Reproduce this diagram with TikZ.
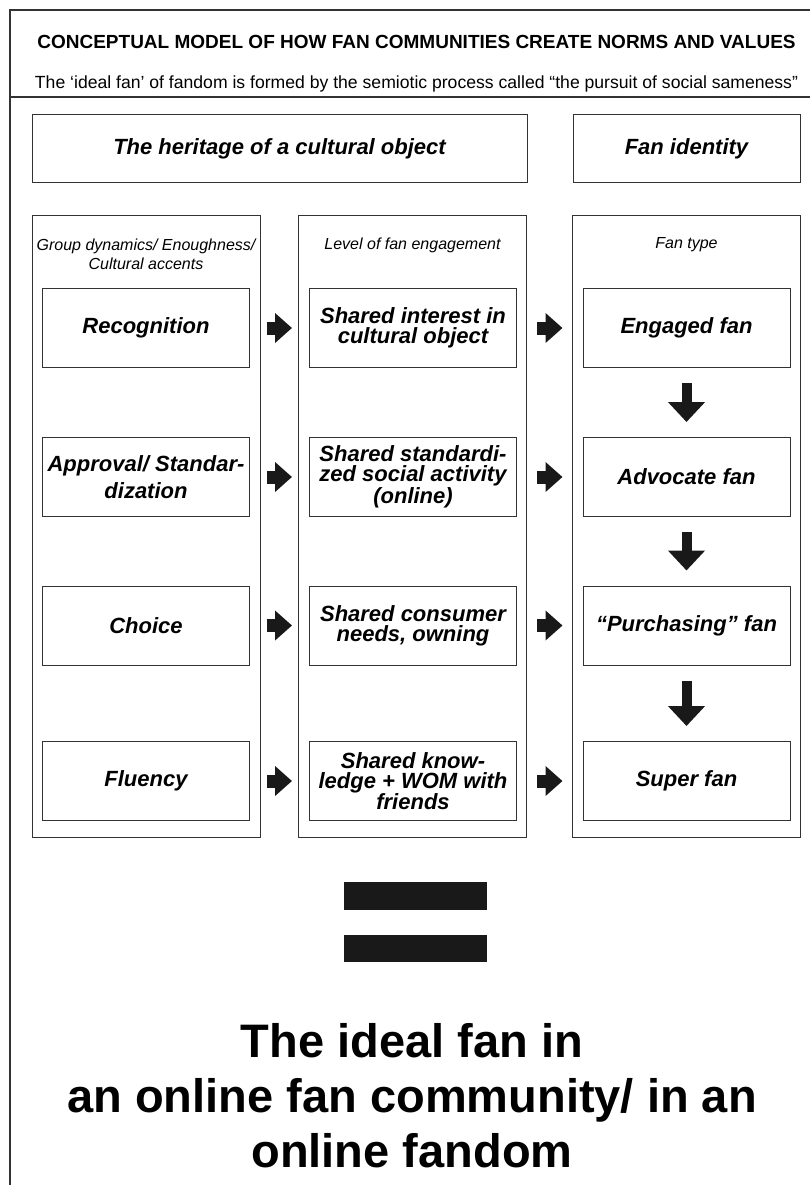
\documentclass[tikz,border=0pt]{standalone}
\usepackage{fontspec}
\setmainfont{Liberation Sans}
\usetikzlibrary{arrows.meta}

\tikzset{
  frame/.style={draw=black!80, line width=1.2pt},
  box/.style={draw=black!80, line width=1pt, align=center, inner sep=2pt,
    font=\fontsize{22}{27}\selectfont\bfseries\itshape},
  colbox/.style={draw=black!80, line width=1pt, minimum width=228pt, minimum height=622pt},
  cell/.style={box, minimum width=207pt, minimum height=79pt},
  tightcell/.style={cell, font=\fontsize{22}{20}\selectfont\bfseries\itshape},
  colhead/.style={align=center, inner sep=0pt, font=\fontsize{16}{19}\selectfont\itshape},
  rarrow/.style={draw=black!90, line width=13pt, -{Triangle[width=29pt,length=17pt]}},
  darrow/.style={draw=black!90, line width=10pt, -{Triangle[width=36pt,length=20pt]}},
  bar/.style={fill=black!90}
}

\begin{document}
\begin{tikzpicture}[x=1pt,y=-1pt]
\useasboundingbox (0,0) rectangle (810,1185);

% frame and heading
\draw[frame] (810,10) -- (10,10) -- (10,1185);
\draw[frame] (10,97) -- (810,97);
\node[font=\fontsize{19}{22}\selectfont\bfseries] (title) at (416.5,42)
  {CONCEPTUAL MODEL OF HOW FAN COMMUNITIES CREATE NORMS AND VALUES};
\node[font=\fontsize{17.6}{20}\selectfont] (subtitle) at (416.5,84)
  {The ‘ideal fan’ of fandom is formed by the semiotic process called “the pursuit of social sameness”};

% top boxes
\node[box, minimum width=495pt, minimum height=68pt] (heritage) at (279.5,149) {The heritage of a cultural object};
\node[box, minimum width=227pt, minimum height=68pt] (identity) at (686.5,149) {Fan identity};

% columns
\node[colbox] (groupcol) at (146,526) {};
\node[colbox] (levelcol) at (412.5,526) {};
\node[colbox] (typecol) at (686.5,526) {};
\node[colhead] (grouphead) at (146,254) {Group dynamics/ Enoughness/\\Cultural accents};
\node[colhead] (levelhead) at (412.5,245) {Level of fan engagement};
\node[colhead] (typehead) at (686.5,245) {Fan type};

% group dynamics
\node[cell] (g1) at (146,328) {Recognition};
\node[cell] (g2) at (146,477) {Approval/ Standar-\\dization};
\node[cell] (g3) at (146,625.5) {Choice};
\node[cell] (g4) at (146,781) {Fluency};

% level of engagement
\node[tightcell] (s1) at (413,328) {Shared interest in\\cultural object};
\node[tightcell] (s2) at (413,477) {Shared standardi-\\zed social activity\\(online)};
\node[tightcell] (s3) at (413,625.5) {Shared consumer\\needs, owning};
\node[tightcell] (s4) at (413,781) {Shared know-\\ledge + WOM with\\friends};

% fan types
\node[cell] (f1) at (686.5,328) {Engaged fan};
\node[cell] (f2) at (686.5,477) {Advocate fan};
\node[cell] (f3) at (686.5,625.5) {“Purchasing” fan};
\node[cell] (f4) at (686.5,781) {Super fan};

\foreach \r in {1,...,4} {
  \draw[rarrow, shorten <=17pt, shorten >=17pt] (g\r) -- (s\r);
  \draw[rarrow, shorten <=20pt, shorten >=20pt] (s\r) -- (f\r);
}
\foreach \a/\b in {1/2,2/3,3/4}
  \draw[darrow, shorten <=15pt, shorten >=15pt] (f\a) -- (f\b);

% equals sign
\fill[bar] (344,882) rectangle (487,910);
\fill[bar] (344,935) rectangle (487,962);

\node[align=center, font=\fontsize{47}{55}\selectfont\bfseries] (ideal) at (412,1096)
  {The ideal fan in\\an online fan community/ in an\\online fandom};
\end{tikzpicture}
\end{document}
